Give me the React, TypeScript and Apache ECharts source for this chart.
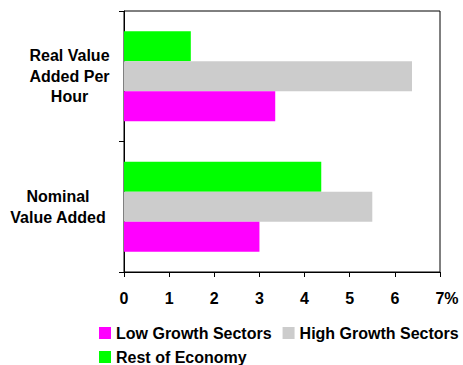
import React, { useEffect, useRef } from "react";
import * as echarts from "echarts";

const categories = ["Nominal\nValue Added", "Real Value\nAdded Per\nHour"];
const lowGrowth = [3.0, 3.35];
const highGrowth = [5.5, 6.38];
const restOfEconomy = [4.37, 1.48];
const seriesNames = ["Low Growth Sectors", "High Growth Sectors", "Rest of Economy"];
const xTicks = { min: 0, max: 7, interval: 1 };

const FONT = '"Liberation Sans", Arial, Helvetica, sans-serif';

export default function App() {
  const ref = useRef<HTMLDivElement>(null);
  useEffect(() => {
    if (!ref.current) return;
    const chart = echarts.init(ref.current, undefined, { renderer: "svg" });
    const labelStyle = {
      fontFamily: FONT,
      fontSize: 16,
      fontWeight: "bold" as const,
      color: "#000",
    };
    const legendBase = {
      left: 99,
      width: 370,
      padding: 0,
      itemGap: 11,
      itemWidth: 12,
      itemHeight: 12,
      icon: "rect",
      textStyle: { ...labelStyle },
    };
    chart.setOption({
      animation: false,
      backgroundColor: "#fff",
      textStyle: { fontFamily: FONT },
      grid: {
        left: 124,
        right: 23,
        top: 11,
        bottom: 93,
        show: true,
        borderColor: "#000",
        borderWidth: 1,
        backgroundColor: "transparent",
        containLabel: false,
        outerBoundsMode: "none",
      },
      legend: [
        { ...legendBase, top: 325, data: [seriesNames[0], seriesNames[1]] },
        { ...legendBase, top: 349, data: [seriesNames[2]] },
      ],
      xAxis: {
        type: "value",
        min: xTicks.min,
        max: xTicks.max,
        interval: xTicks.interval,
        splitLine: { show: false },
        axisLine: { show: true, lineStyle: { color: "#000", width: 1 } },
        axisTick: { show: true, length: 5, lineStyle: { color: "#000" } },
        axisLabel: {
          ...labelStyle,
          margin: 18,
          formatter: (v: number) => (v === xTicks.max ? `{p|${v}%}` : String(v)),
          rich: {
            p: { ...labelStyle, padding: [0, 0, 0, 14] },
          },
        },
      },
      yAxis: {
        type: "category",
        data: categories,
        axisLine: { show: true, lineStyle: { color: "#000", width: 1 } },
        axisTick: { show: true, length: 5, lineStyle: { color: "#000" } },
        axisLabel: {
          ...labelStyle,
          align: "right",
          margin: 8,
          formatter: (v: string) => {
            const key = v.startsWith("Real") ? "r" : "n";
            return v
              .split("\n")
              .map((l) => `{${key}|${l}}`)
              .join("\n");
          },
          rich: {
            r: { ...labelStyle, width: 93, align: "center", lineHeight: 20.5 },
            n: { ...labelStyle, width: 116, align: "center", lineHeight: 20.5 },
          },
        },
      },
      series: [
        {
          name: seriesNames[2],
          type: "bar",
          data: restOfEconomy,
          itemStyle: { color: "#00FF00" },
          barGap: "0%",
          barCategoryGap: "31%",
        },
        {
          name: seriesNames[1],
          type: "bar",
          data: highGrowth,
          itemStyle: { color: "#CCCCCC" },
          barGap: "0%",
          barCategoryGap: "31%",
        },
        {
          name: seriesNames[0],
          type: "bar",
          data: lowGrowth,
          itemStyle: { color: "#FF00FF" },
          barGap: "0%",
          barCategoryGap: "31%",
        },
      ],
    });
    return () => chart.dispose();
  }, []);
  return (
    <div
      ref={ref}
      style={{ position: "fixed", left: 0, top: 0, width: 463, height: 365 }}
    />
  );
}
